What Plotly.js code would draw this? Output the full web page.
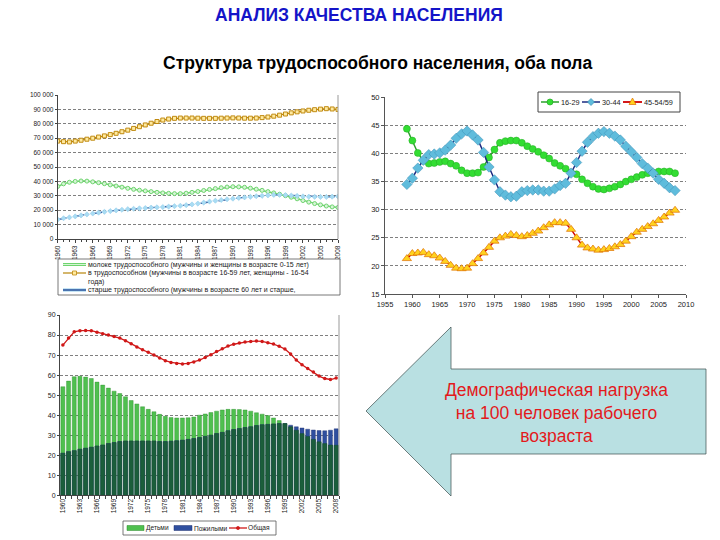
<!DOCTYPE html>
<html><head><meta charset="utf-8">
<script src="https://cdn.plot.ly/plotly-3.0.1.min.js"></script>
<style>html,body{margin:0;padding:0;background:#fff}#chart{width:720px;height:540px}</style>
</head><body><div id="chart"></div>
<script>
// ---------- Top-left: structure of population (1960-2008) ----------
const yearsA = [1960,1961,1962,1963,1964,1965,1966,1967,1968,1969,1970,1971,1972,1973,1974,1975,1976,1977,1978,1979,1980,1981,1982,1983,1984,1985,1986,1987,1988,1989,1990,1991,1992,1993,1994,1995,1996,1997,1998,1999,2000,2001,2002,2003,2004,2005,2006,2007,2008];
const youngPop = [36500,38300,39400,40000,40300,40200,39700,39100,38400,37600,36800,36000,35200,34500,33900,33400,32900,32400,32000,31700,31500,31500,31800,32400,33000,33700,34400,35000,35600,36100,36300,36200,35900,35300,34600,33800,32900,32000,31100,30100,29000,27900,26700,25600,24600,23700,22900,22300,21900];
const workPop = [68000,67600,67400,68000,68600,69300,70000,70800,71600,72500,73400,74500,75600,76800,78000,79200,80400,81600,82600,83300,83800,84000,84000,84000,83900,83800,83800,83800,83900,84000,84100,84000,83900,83900,84000,84300,84700,85300,86000,86800,87600,88300,88900,89400,89800,90200,90500,90300,90000];
const oldPop = [13500,14400,15000,15700,16400,17100,17700,18300,18900,19400,19900,20300,20700,21000,21300,21500,21800,22000,22200,22500,22800,23100,23500,24000,24600,25300,26000,26600,27100,27600,28000,28500,28900,29300,29700,30000,30300,30600,30700,30500,30200,29900,29600,29400,29300,29200,29200,29400,29600];
const namesA = ["молоке трудоспособного (мужчины и женщины в возрасте 0-15 лет)",
  "в трудоспособном (мужчины в возрасте 16-59 лет, женщины - 16-54",
  "года)",
  "старше трудоспособного (мужчины в возрасте 60 лет и старше,"];
const ticksA = [1960,1963,1966,1969,1972,1975,1978,1981,1984,1987,1990,1993,1996,1999,2002,2005,2008];

// ---------- Top-right: age groups share (1959-2008) ----------
const yearsB = [1959,1960,1961,1962,1963,1964,1965,1966,1967,1968,1969,1970,1971,1972,1973,1974,1975,1976,1977,1978,1979,1980,1981,1982,1983,1984,1985,1986,1987,1988,1989,1990,1991,1992,1993,1994,1995,1996,1997,1998,1999,2000,2001,2002,2003,2004,2005,2006,2007,2008];
const g1629 = [44.4,42.3,40.1,38.7,38.2,38.3,38.5,38.6,38.2,37.8,37.0,36.5,36.5,36.6,37.6,39.3,40.7,41.9,42.2,42.3,42.3,41.9,41.3,40.8,40.3,39.7,39.1,38.3,37.8,37.3,36.6,36.3,35.4,34.7,34.1,33.7,33.6,33.8,34.1,34.5,35.0,35.4,35.8,36.2,36.5,36.6,36.8,36.8,36.8,36.5];
const g3044 = [34.5,35.6,37.4,38.8,39.8,39.9,40.1,40.6,41.5,42.7,43.5,44.0,43.3,42.4,40.2,37.6,35.3,33.2,32.6,32.3,32.4,33.2,33.4,33.5,33.5,33.3,33.3,33.7,34.3,34.7,36.5,38.4,40.4,42.0,43.0,43.6,43.9,43.6,43.1,42.4,41.3,40.3,39.3,38.2,37.4,36.5,35.4,34.7,33.9,33.4];
const g4559 = [21.3,22.2,22.3,22.4,22.0,21.8,21.4,20.8,20.1,19.6,19.5,19.6,20.4,21.3,22.3,23.3,24.4,25.0,25.3,25.6,25.4,25.2,25.4,25.8,26.2,26.8,27.3,27.7,27.7,27.6,26.5,25.0,23.7,23.2,23.0,22.8,22.9,23.1,23.4,23.8,24.4,25.2,26.0,26.5,27.0,27.5,28.1,28.7,29.4,29.9];
const namesB = ["16-29","30-44","45-54/59"];

// ---------- Bottom-left: dependency ratio per 100 working age ----------
const yearsC = yearsA;
const children = [54.2,57.0,59.2,59.4,59.0,58.3,56.5,55.0,53.5,52.0,50.8,49.2,47.3,45.6,44.2,42.9,41.7,40.4,39.4,38.8,38.6,38.6,38.7,39.1,40.0,40.6,41.3,42.0,42.6,42.9,42.9,42.8,42.6,42.0,41.2,40.5,39.8,38.6,37.3,35.8,34.2,32.5,30.8,29.4,27.9,26.7,25.8,25.1,25.0];
const elderly = [21.0,21.8,22.3,23.0,23.5,24.0,24.6,25.1,25.8,26.3,26.8,27.1,27.1,27.1,27.1,27.1,27.1,26.8,26.8,27.0,27.2,27.5,27.9,28.3,28.8,29.4,30.0,30.8,31.4,32.2,32.8,33.3,33.8,34.2,34.8,35.2,35.4,35.6,35.8,35.8,35.0,34.2,33.6,33.0,32.6,32.3,32.2,32.5,33.2];
const total = [75.0,78.5,81.6,82.2,82.3,82.2,81.4,80.6,80.0,79.3,78.5,77.2,75.6,74.0,72.6,71.4,70.0,68.5,67.2,66.3,65.8,65.6,65.8,66.5,67.5,68.8,70.2,71.8,73.2,74.5,75.4,76.0,76.5,76.8,77.0,76.8,76.2,75.5,74.4,73.0,70.5,67.5,65.2,63.3,61.5,59.5,58.3,57.8,58.5];
const namesC = ["Детьми","Пожилыми","Общая"];

// ---------- helpers ----------
const W = 720, H = 540;
const fx = x => x / W, fy = y => 1 - y / H;
const FONT = "Liberation Sans, Arial, sans-serif";
const overlap = children.map((v, i) => Math.min(v, elderly[i]));

const C = {
  young: '#6fd46f', youngFill: '#d6f5d6', work: '#b8860b', workFill: '#ffeaa0', old: '#1f3d8a', oldFill: '#a9dcf3',
  g1: '#2ca02c', g1Fill: '#33dd33', g2: '#1c2a80', g2Fill: '#5fbcdc', g3: '#d00000', g3Fill: '#ffd21f',
  kids: '#4fc04f', elder: '#2f4f9f', both: '#1b5e3b', tot: '#d01818'
};

const traces = [
  // top-left
  {x: yearsA, y: youngPop, name: namesA[0], type: 'scatter', mode: 'lines+markers', xaxis: 'x', yaxis: 'y',
   line: {color: C.young, width: 1.5}, marker: {symbol: 'circle', size: 4, color: C.youngFill, line: {color: C.young, width: 1}}},
  {x: yearsA, y: workPop, name: namesA[1], type: 'scatter', mode: 'lines+markers', xaxis: 'x', yaxis: 'y',
   line: {color: C.work, width: 1.2}, marker: {symbol: 'square', size: 4, color: C.workFill, line: {color: '#c08a10', width: 1}}},
  {x: yearsA, y: oldPop, name: namesA[3], type: 'scatter', mode: 'lines+markers', xaxis: 'x', yaxis: 'y',
   line: {color: C.old, width: 1.3, dash: 'dash'}, marker: {symbol: 'diamond', size: 4, color: C.oldFill, line: {color: '#8cc8e8', width: 0.5}}},
  // top-right
  {x: yearsB, y: g1629, name: namesB[0], type: 'scatter', mode: 'lines+markers', xaxis: 'x2', yaxis: 'y2',
   line: {color: C.g1, width: 1.5}, marker: {symbol: 'circle', size: 7, color: C.g1Fill, line: {color: '#22aa22', width: 0.5}}},
  {x: yearsB, y: g3044, name: namesB[1], type: 'scatter', mode: 'lines+markers', xaxis: 'x2', yaxis: 'y2',
   line: {color: C.g2, width: 1.5}, marker: {symbol: 'diamond', size: 8, color: C.g2Fill, line: {color: '#3d8fb5', width: 0.5}}},
  {x: yearsB, y: g4559, name: namesB[2], type: 'scatter', mode: 'lines+markers', xaxis: 'x2', yaxis: 'y2',
   line: {color: C.g3, width: 1.5}, marker: {symbol: 'triangle-up', size: 8, color: C.g3Fill, line: {color: '#e07000', width: 0.7}}},
  // bottom-left
  {x: yearsC, y: children, name: namesC[0], type: 'bar', xaxis: 'x3', yaxis: 'y3',
   marker: {color: C.kids, line: {color: '#2b8a2b', width: 0.4}}},
  {x: yearsC, y: elderly, name: namesC[1], type: 'bar', xaxis: 'x3', yaxis: 'y3',
   marker: {color: C.elder, line: {color: '#1f3070', width: 0.4}}},
  {x: yearsC, y: overlap, name: 'overlap', type: 'bar', xaxis: 'x3', yaxis: 'y3',
   marker: {color: C.both, line: {color: '#154a2e', width: 0.4}}},
  {x: yearsC, y: total, name: namesC[2], type: 'scatter', mode: 'lines+markers', xaxis: 'x3', yaxis: 'y3',
   line: {color: C.tot, width: 1.3}, marker: {symbol: 'circle', size: 3.5, color: C.tot}}
];

const grid = {showgrid: true, gridcolor: '#7f7f7f', griddash: '3px,2px', gridwidth: 1};

// ----- manual legends (shapes + annotations) -----
const shapes = [];
const annotations = [];
function line(x0, y0, x1, y1, color, width, dash) {
  shapes.push({type: 'line', xref: 'paper', yref: 'paper', x0: fx(x0), y0: fy(y0), x1: fx(x1), y1: fy(y1), line: {color, width, dash: dash || 'solid'}});
}
function rect(x0, y0, x1, y1, fill, stroke, width) {
  shapes.push({type: 'rect', xref: 'paper', yref: 'paper', x0: fx(x0), y0: fy(y1), x1: fx(x1), y1: fy(y0), fillcolor: fill, line: {color: stroke, width: width}});
}
function circ(cx, cy, r, fill, stroke) {
  shapes.push({type: 'circle', xref: 'paper', yref: 'paper', x0: fx(cx - r), y0: fy(cy + r), x1: fx(cx + r), y1: fy(cy - r), fillcolor: fill, line: {color: stroke, width: 0.7}});
}
function poly(pts, fill, stroke) {
  shapes.push({type: 'path', xref: 'paper', yref: 'paper', path: 'M' + pts.map(p => fx(p[0]) + ',' + fy(p[1])).join(' L') + ' Z', fillcolor: fill, line: {color: stroke, width: 0.7}});
}
function label(text, x, y, size, color, anchor) {
  annotations.push({text, xref: 'paper', yref: 'paper', x: fx(x), y: fy(y), xanchor: anchor || 'left', yanchor: 'middle', showarrow: false,
    borderpad: 0, font: {family: FONT, size, color}});
}

// plot area borders
line(338, 239, 338, 95, '#999', 1);
line(339, 495.3, 339, 315, '#999', 1);

// top-left legend
rect(58, 259, 340, 295, '#fff', '#555', 0.8);
line(63, 264.5, 86, 264.5, C.young, 3); line(63, 264.5, 86, 264.5, C.youngFill, 1);
label(namesA[0], 87, 264.5, 7, '#222');
line(63, 273, 86, 273, C.work, 1.2); rect(72.5, 271, 76.5, 275, C.workFill, '#c08a10', 0.8);
label(namesA[1], 87, 273, 7, '#222');
label(namesA[2], 87, 281.5, 7, '#222');
line(63, 290, 86, 290, '#8cc8e8', 3); line(63, 290, 86, 290, C.old, 1.2);
label(namesA[3], 87, 290, 7, '#222');

// top-right legend
rect(538, 92, 680, 112, '#fff', '#444', 1);
line(541, 102, 559, 102, C.g1, 1.5); circ(550, 102, 3, C.g1Fill, '#22aa22');
label(namesB[0], 560, 102, 7.3, '#222');
line(582, 102, 600, 102, C.g2, 1.5); poly([[591, 98.5], [594.5, 102], [591, 105.5], [587.5, 102]], C.g2Fill, '#3d8fb5');
label(namesB[1], 601, 102, 7.3, '#222');
line(623, 102, 642, 102, C.g3, 1.8); poly([[632.5, 98], [636, 104.5], [629, 104.5]], C.g3Fill, '#e07000');
label(namesB[2], 643, 102, 7.3, '#222');

// bottom legend
rect(123, 521, 276, 535, '#fff', '#555', 0.8);
rect(127, 525.5, 144, 530.5, C.kids, '#2b8a2b', 0.5);
label(namesC[0], 145, 528, 6.6, '#222');
rect(174, 525.5, 192, 530.5, C.elder, '#1f3070', 0.5);
label(namesC[1], 193, 528, 6.6, '#222');
line(229, 528, 247, 528, C.tot, 1.3); circ(238, 528, 1.6, C.tot, C.tot);
label(namesC[2], 247, 528, 6.6, '#222');

// arrow
poly([[366, 411], [451, 327], [451, 369], [706, 369], [706, 454], [451, 454], [451, 496]], '#b9e0e2', '#3a4a4a');

// titles
annotations.push(
  {text: '<b>АНАЛИЗ КАЧЕСТВА НАСЕЛЕНИЯ</b>', xref: 'paper', yref: 'paper', x: fx(359), y: fy(15), xanchor: 'center', yanchor: 'middle',
   showarrow: false, font: {family: FONT, size: 17.5, color: '#1414c8'}},
  {text: '<b>Структура трудоспособного населения, оба пола</b>', xref: 'paper', yref: 'paper', x: fx(377), y: fy(63), xanchor: 'center', yanchor: 'middle',
   showarrow: false, font: {family: FONT, size: 17.5, color: '#000'}},
  {text: 'Демографическая нагрузка<br>на 100 человек рабочего<br>возраста', xref: 'paper', yref: 'paper', x: fx(556), y: fy(413), xanchor: 'center', yanchor: 'middle',
   showarrow: false, align: 'center', font: {family: FONT, size: 17.5, color: '#e31a1c'}}
);

const layout = {
  width: W, height: H, margin: {l: 0, r: 0, t: 0, b: 0},
  paper_bgcolor: '#fff', plot_bgcolor: '#fff', showlegend: false,
  separators: ', ', barmode: 'overlay', bargap: 0.3,
  font: {family: FONT},
  xaxis: {domain: [fx(57.7), fx(338)], range: [1960, 2008], tickmode: 'array', tickvals: ticksA, ticktext: ticksA.map(String),
    tickangle: -90, tickfont: {family: FONT, size: 6.5, color: '#222'}, showgrid: false, zeroline: false,
    showline: true, linecolor: '#444', ticks: 'outside', ticklen: 3, tickcolor: '#444', anchor: 'y',
    minor: {tickmode: 'linear', tick0: 1960, dtick: 1, ticks: 'outside', ticklen: 2, tickcolor: '#444', showgrid: false}},
  yaxis: Object.assign({domain: [fy(239), fy(95)], range: [0, 100000], dtick: 10000, tickformat: ',.0f', tickfont: {family: FONT, size: 6.5, color: '#222'},
    zeroline: false, showline: true, linecolor: '#444', ticks: 'outside', ticklen: 2, tickcolor: '#444', anchor: 'x'}, grid),
  xaxis2: {domain: [fx(385), fx(686)], range: [1955, 2010], dtick: 5, tick0: 1955, tickfont: {family: FONT, size: 7.5, color: '#222'},
    showgrid: false, zeroline: false, showline: true, linecolor: '#555', ticks: 'outside', ticklen: 3, tickcolor: '#555', anchor: 'y2'},
  yaxis2: Object.assign({domain: [fy(294), fy(97.3)], range: [15, 50], dtick: 5, tickfont: {family: FONT, size: 7.5, color: '#222'},
    zeroline: false, showline: true, linecolor: '#555', ticks: 'outside', ticklen: 3, tickcolor: '#555', anchor: 'x2'}, grid),
  xaxis3: {domain: [fx(60), fx(339)], range: [1959.5, 2008.5], tickmode: 'array', tickvals: ticksA, ticktext: ticksA.map(String),
    tickangle: -90, tickfont: {family: FONT, size: 6.5, color: '#222'}, showgrid: false, zeroline: false,
    showline: true, linecolor: '#444', ticks: '', anchor: 'y3',
    minor: {tickmode: 'linear', tick0: 1959.5, dtick: 1, ticks: 'outside', ticklen: 3, tickcolor: '#444', showgrid: false}},
  yaxis3: Object.assign({domain: [fy(495.3), fy(315)], range: [0, 90], dtick: 10, tickfont: {family: FONT, size: 7, color: '#222'},
    zeroline: false, showline: true, linecolor: '#444', ticks: 'outside', ticklen: 2, tickcolor: '#444', anchor: 'x3'}, grid),
  shapes, annotations
};

Plotly.newPlot('chart', traces, layout, {staticPlot: true, displayModeBar: false});
</script></body></html>
